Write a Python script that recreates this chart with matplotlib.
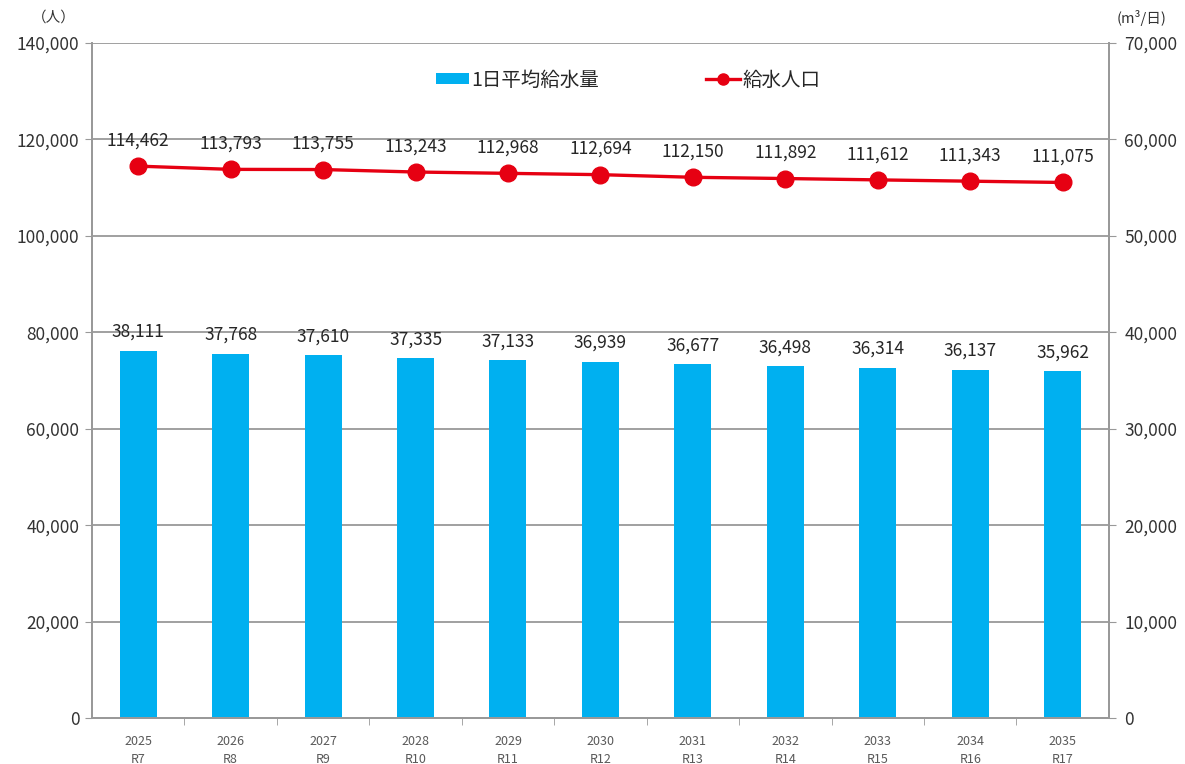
import matplotlib
matplotlib.use('Agg')
import matplotlib.pyplot as plt
from matplotlib.lines import Line2D
from matplotlib.patches import Patch

plt.rcParams['font.family'] = ['Noto Sans CJK JP', 'DejaVu Sans']

# 給水人口と1日平均給水量の見通し
years = ['2025', '2026', '2027', '2028', '2029', '2030', '2031', '2032', '2033', '2034', '2035']
eras = ['R7', 'R8', 'R9', 'R10', 'R11', 'R12', 'R13', 'R14', 'R15', 'R16', 'R17']
population = [114462, 113793, 113755, 113243, 112968, 112694, 112150, 111892, 111612, 111343, 111075]
daily_supply = [38111, 37768, 37610, 37335, 37133, 36939, 36677, 36498, 36314, 36137, 35962]

bar_color = '#00B0F0'
line_color = '#E60012'
grid_color = '#999999'
text_color = '#333333'

fig = plt.figure(figsize=(11.85, 7.64), dpi=100)
ax = fig.add_axes([0.0776, 0.0602, 0.8582, 0.8835])
ax2 = ax.twinx()

x = list(range(len(years)))

# 棒グラフ（右軸）
ax2.bar(x, daily_supply, width=0.40, color=bar_color, zorder=2)
for xi, v in zip(x, daily_supply):
    ax2.annotate(f'{v:,}', (xi, v), xytext=(0, 7), textcoords='offset points',
                 ha='center', va='bottom', fontsize=12.5, color='#262626')

# 折れ線（左軸）を棒の上に重ねる
ax.set_zorder(ax2.get_zorder() + 1)
ax.patch.set_visible(False)
ax.plot(x, population, color=line_color, linewidth=2.4, marker='o', markersize=12,
        zorder=3)
for xi, v in zip(x, population):
    ax.annotate(f'{v:,}', (xi, v), xytext=(0, 12), textcoords='offset points',
                ha='center', va='bottom', fontsize=12.5, color='#262626')

ax.set_xlim(-0.5, len(years) - 0.5)
ax.set_ylim(0, 140000)
ax2.set_ylim(0, 70000)
ax.set_yticks(range(0, 140001, 20000))
ax2.set_yticks(range(0, 70001, 10000))
ax.set_yticklabels([f'{v:,}' for v in range(0, 140001, 20000)], fontsize=12.5, color=text_color)
ax2.set_yticklabels([f'{v:,}' for v in range(0, 70001, 10000)], fontsize=12.5, color=text_color)

# 横方向の目盛線
for v in range(20000, 140001, 20000):
    ax2.axhline(v / 2, color=grid_color, linewidth=1.3, zorder=1)

ax.set_xticks(x)
ax.set_xticklabels([f'{y}\n{e}' for y, e in zip(years, eras)], fontsize=9,
                   color='#595959', linespacing=1.5)
ax.tick_params(axis='x', length=0, pad=12)
ax.set_xticks([i - 0.5 for i in range(1, len(years))], minor=True)
ax.tick_params(axis='x', which='minor', length=5, color=grid_color, direction='out')
ax.tick_params(axis='y', length=5, color=grid_color, pad=4)
ax2.tick_params(axis='y', length=5, color=grid_color, pad=6)
ax2.tick_params(axis='x', length=0)

for a in (ax, ax2):
    a.spines['top'].set_visible(False)
    for side in ('left', 'right', 'bottom'):
        a.spines[side].set_color(grid_color)
        a.spines[side].set_linewidth(1.3)

fig.text(0.045, 0.977, '（人）', fontsize=10.5, color=text_color, ha='center', va='center')
fig.text(0.963, 0.977, '(m³/日)', fontsize=10.5, color=text_color, ha='center', va='center')

handles = [Patch(facecolor=bar_color, edgecolor='none'),
           Line2D([0], [0], color=line_color, linewidth=2.4, marker='o', markersize=8)]
fig.legend(handles, ['1日平均給水量', '給水人口'], loc='center', bbox_to_anchor=(0.530, 0.895),
           ncol=2, frameon=False, fontsize=14, columnspacing=5.5, handlelength=1.7,
           handleheight=0.5, handletextpad=0.15, labelcolor='#262626')

fig.savefig('out.png', dpi=100)
